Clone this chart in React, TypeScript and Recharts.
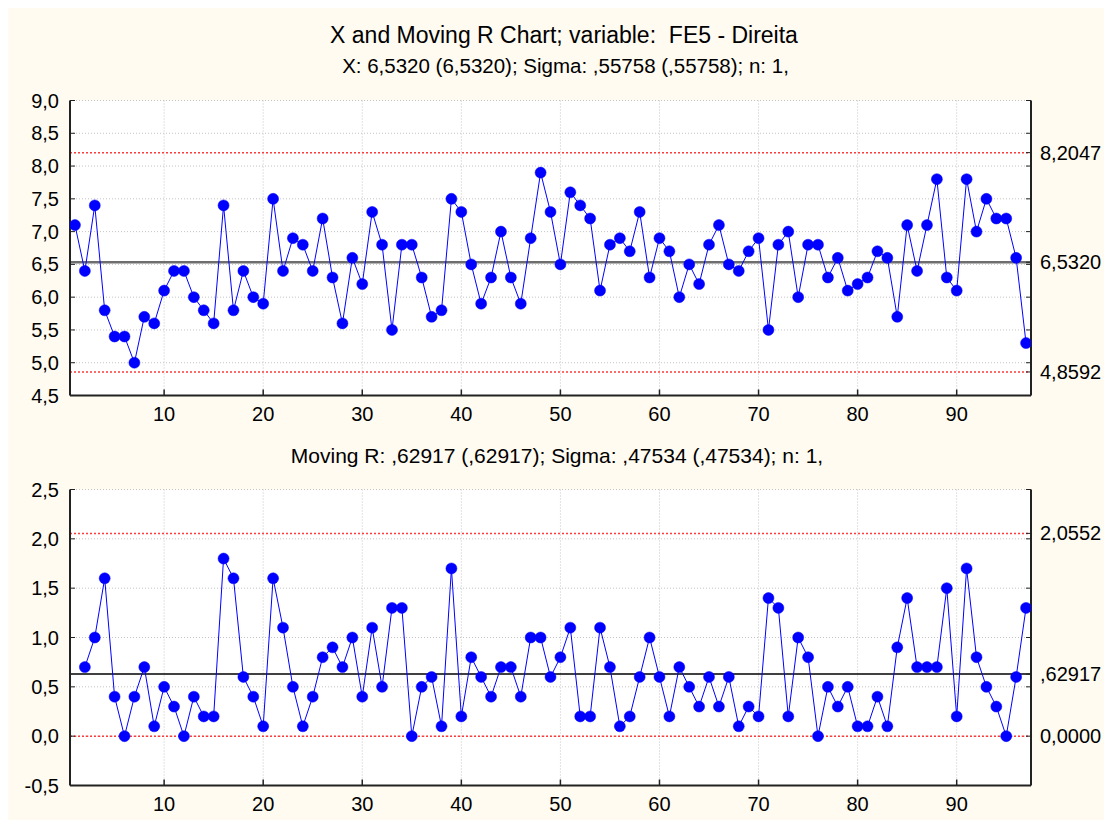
import React from 'react';
import { LineChart, Line, XAxis, YAxis, CartesianGrid, ReferenceLine } from 'recharts';

// Individual values, samples 1..97
const xValues = [
  7.1, 6.4, 7.4, 5.8, 5.4, 5.4, 5.0, 5.7, 5.6, 6.1,
  6.4, 6.4, 6.0, 5.8, 5.6, 7.4, 5.8, 6.4, 6.0, 5.9,
  7.5, 6.4, 6.9, 6.8, 6.4, 7.2, 6.3, 5.6, 6.6, 6.2,
  7.3, 6.8, 5.5, 6.8, 6.8, 6.3, 5.7, 5.8, 7.5, 7.3,
  6.5, 5.9, 6.3, 7.0, 6.3, 5.9, 6.9, 7.9, 7.3, 6.5,
  7.6, 7.4, 7.2, 6.1, 6.8, 6.9, 6.7, 7.3, 6.3, 6.9,
  6.7, 6.0, 6.5, 6.2, 6.8, 7.1, 6.5, 6.4, 6.7, 6.9,
  5.5, 6.8, 7.0, 6.0, 6.8, 6.8, 6.3, 6.6, 6.1, 6.2,
  6.3, 6.7, 6.6, 5.7, 7.1, 6.4, 7.1, 7.8, 6.3, 6.1,
  7.8, 7.0, 7.5, 7.2, 7.2, 6.6, 5.3,
];

// Moving ranges, samples 2..97
const mrValues = [
  0.7, 1.0, 1.6, 0.4, 0.0, 0.4, 0.7, 0.1, 0.5,
  0.3, 0.0, 0.4, 0.2, 0.2, 1.8, 1.6, 0.6, 0.4, 0.1,
  1.6, 1.1, 0.5, 0.1, 0.4, 0.8, 0.9, 0.7, 1.0, 0.4,
  1.1, 0.5, 1.3, 1.3, 0.0, 0.5, 0.6, 0.1, 1.7, 0.2,
  0.8, 0.6, 0.4, 0.7, 0.7, 0.4, 1.0, 1.0, 0.6, 0.8,
  1.1, 0.2, 0.2, 1.1, 0.7, 0.1, 0.2, 0.6, 1.0, 0.6,
  0.2, 0.7, 0.5, 0.3, 0.6, 0.3, 0.6, 0.1, 0.3, 0.2,
  1.4, 1.3, 0.2, 1.0, 0.8, 0.0, 0.5, 0.3, 0.5, 0.1,
  0.1, 0.4, 0.1, 0.9, 1.4, 0.7, 0.7, 0.7, 1.5, 0.2,
  1.7, 0.8, 0.5, 0.3, 0.0, 0.6, 1.3,
];

const xTicks = [10, 20, 30, 40, 50, 60, 70, 80, 90];
const xDomain: [number, number] = [0.5, 97.5];
const topYTicks = [4.5, 5.0, 5.5, 6.0, 6.5, 7.0, 7.5, 8.0, 8.5, 9.0];
const botYTicks = [-0.5, 0.0, 0.5, 1.0, 1.5, 2.0, 2.5];

const topLimits = [8.2047, 6.532, 4.8592];
const topLimitLabels = ['8,2047', '6,5320', '4,8592'];
const botLimits = [2.0552, 0.62917, 0.0];
const botLimitLabels = ['2,0552', ',62917', '0,0000'];

const titleText = 'X and Moving R Chart; variable:  FE5 - Direita';
const subTopText = 'X: 6,5320 (6,5320); Sigma: ,55758 (,55758); n: 1,';
const subBotText = 'Moving R: ,62917 (,62917); Sigma: ,47534 (,47534); n: 1,';

const xData = xValues.map((v, i) => ({ i: i + 1, v }));
const mrData = mrValues.map((v, i) => ({ i: i + 2, v }));

const fmt1 = (v: number) => v.toFixed(1).replace('.', ',');
const AX = '#222';
const BLUE = '#0000ff';
const RED = '#ff3b3b';
const FONT = "'Liberation Sans', Arial, sans-serif";

function makeRightTicks(grid: number[], limits: number[]) {
  const all = [...grid];
  limits.forEach((l) => {
    if (!all.some((g) => Math.abs(g - l) < 1e-9)) all.push(l);
  });
  return all.sort((a, b) => a - b);
}

function rightFormatter(limits: number[], labels: string[]) {
  return (v: number) => {
    const k = limits.findIndex((l) => Math.abs(l - v) < 1e-9);
    return k >= 0 ? labels[k] : '';
  };
}

type PanelProps = {
  data: { i: number; v: number }[];
  yTicks: number[];
  limits: number[];
  labels: string[];
  height: number;
  marginTop: number;
  marginBottom: number;
  centerStroke: string;
  centerWidth: number;
};

function Panel(p: PanelProps) {
  const dom: [number, number] = [p.yTicks[0], p.yTicks[p.yTicks.length - 1]];
  const rTicks = makeRightTicks(p.yTicks, p.limits);
  return (
    <LineChart
      width={1096}
      height={p.height}
      data={p.data}
      margin={{ top: p.marginTop, right: 0, bottom: p.marginBottom, left: 0 }}
    >
      <CartesianGrid
        xAxisId="b"
        yAxisId="l"
        fill="#ffffff"
        stroke="#c4c4c4"
        strokeDasharray="1 2"
        horizontalValues={p.yTicks}
        verticalValues={xTicks}
      />
      <XAxis
        xAxisId="b"
        dataKey="i"
        type="number"
        domain={xDomain}
        ticks={xTicks}
        interval={0}
        allowDataOverflow
        height={30}
        axisLine={{ stroke: AX, strokeWidth: 2 }}
        tickLine={{ stroke: AX, strokeWidth: 1.5 }}
        tickSize={-6}
        tickMargin={17}
        tick={{ fontSize: 20, fill: '#000' }}
      />
      <XAxis
        xAxisId="t"
        orientation="top"
        dataKey="i"
        type="number"
        domain={xDomain}
        ticks={xTicks}
        interval={0}
        allowDataOverflow
        height={0}
        axisLine={{ stroke: AX, strokeWidth: 2 }}
        tickLine={{ stroke: AX, strokeWidth: 1.5 }}
        tickSize={-6}
        tickFormatter={() => ''}
      />
      <YAxis
        yAxisId="l"
        type="number"
        domain={dom}
        ticks={p.yTicks}
        interval={0}
        allowDataOverflow
        width={62}
        axisLine={{ stroke: AX, strokeWidth: 2 }}
        tickLine={{ stroke: AX, strokeWidth: 1 }}
        tickSize={-5}
        tickMargin={16}
        tickFormatter={fmt1}
        tick={{ fontSize: 20, fill: '#000' }}
      />
      <YAxis
        yAxisId="r"
        orientation="right"
        type="number"
        domain={dom}
        ticks={rTicks}
        interval={0}
        allowDataOverflow
        width={73}
        axisLine={{ stroke: AX, strokeWidth: 2 }}
        tickLine={{ stroke: AX, strokeWidth: 1 }}
        tickSize={-5}
        tickMargin={14}
        tickFormatter={rightFormatter(p.limits, p.labels)}
        tick={{ fontSize: 20, fill: '#000' }}
      />
      <ReferenceLine
        yAxisId="l"
        xAxisId="b"
        y={p.limits[0]}
        stroke={RED}
        strokeWidth={1.5}
        strokeDasharray="2 2"
      />
      <ReferenceLine
        yAxisId="l"
        xAxisId="b"
        y={p.limits[2]}
        stroke={RED}
        strokeWidth={1.5}
        strokeDasharray="2 2"
      />
      <ReferenceLine
        yAxisId="l"
        xAxisId="b"
        y={p.limits[1]}
        stroke={p.centerStroke}
        strokeWidth={p.centerWidth}
      />
      <Line
        xAxisId="b"
        yAxisId="l"
        dataKey="v"
        type="linear"
        stroke={BLUE}
        strokeWidth={1}
        dot={{ r: 5.5, fill: BLUE, stroke: BLUE, strokeWidth: 0.5 }}
        activeDot={false}
        isAnimationActive={false}
      />
    </LineChart>
  );
}

const textBox = (center: number, top: number, size: number): React.CSSProperties => ({
  position: 'absolute',
  left: center - 500,
  width: 1000,
  top,
  textAlign: 'center',
  fontSize: size,
  lineHeight: `${size}px`,
  whiteSpace: 'pre',
  color: '#000',
});

export default function App() {
  return (
    <div
      style={{
        position: 'relative',
        width: 1096,
        height: 812,
        background: '#fffbf0',
        fontFamily: FONT,
        overflow: 'hidden',
      }}
    >
      <div style={textBox(556, 15.5, 23)}>{titleText}</div>
      <div style={textBox(557.5, 48, 20.5)}>{subTopText}</div>
      <div style={textBox(549, 436.5, 21)}>{subBotText}</div>
      <div style={{ position: 'absolute', left: 0, top: 0 }}>
        <Panel
          data={xData}
          yTicks={topYTicks}
          limits={topLimits}
          labels={topLimitLabels}
          height={420}
          marginTop={92.5}
          marginBottom={2.5}
          centerStroke="#6e6e6e"
          centerWidth={2.5}
        />
      </div>
      <div style={{ position: 'absolute', left: 0, top: 440 }}>
        <Panel
          data={mrData}
          yTicks={botYTicks}
          limits={botLimits}
          labels={botLimitLabels}
          height={372}
          marginTop={41.5}
          marginBottom={4.5}
          centerStroke="#000"
          centerWidth={1.5}
        />
      </div>
    </div>
  );
}
